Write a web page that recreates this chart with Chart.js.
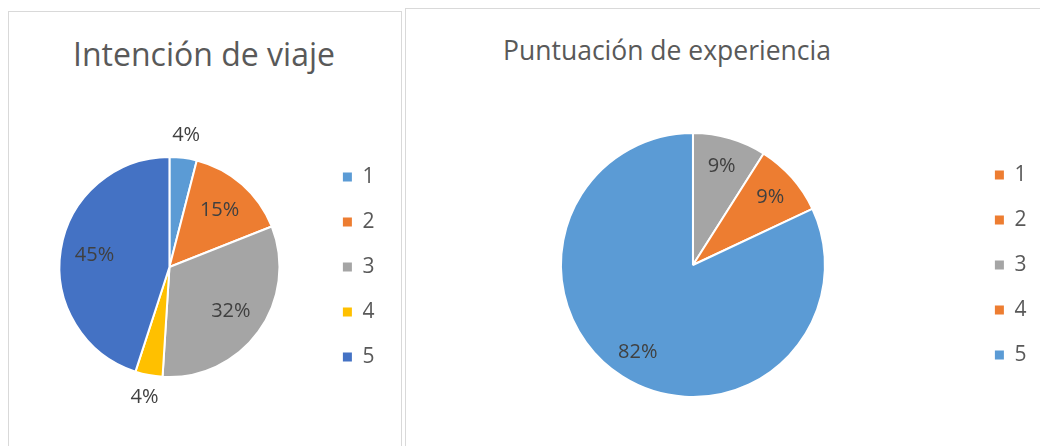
<!DOCTYPE html>
<html>
<head>
<meta charset="utf-8">
<script src="https://cdn.jsdelivr.net/npm/chart.js@4/dist/chart.umd.min.js"></script>
<style>
  body { margin: 0; background: #fff; width: 1040px; height: 446px; overflow: hidden; position: relative; font-family: 'Open Sans', sans-serif; }
  .box { position: absolute; border: 1px solid #d9d9d9; box-sizing: border-box; background: #fff; }
  .title { position: absolute; width: 500px; text-align: center; color: #595959; white-space: nowrap; }
  canvas { position: absolute; }
</style>
</head>
<body>
<div class="box" style="left:8px; top:11px; width:394px; height:460px;"></div>
<div class="box" style="left:405px; top:8px; width:660px; height:460px;"></div>
<div class="title" style="left:-46px; top:35px; font-size:32px; line-height:38px;">Intención de viaje</div>
<div class="title" style="left:417px; top:34px; font-size:26.5px; line-height:32px;">Puntuación de experiencia</div>
<canvas id="chartLeft" width="393" height="435" style="left:8px; top:11px;"></canvas>
<canvas id="chartRight" width="635" height="438" style="left:405px; top:8px;"></canvas>
<script>
const categories = ['1', '2', '3', '4', '5'];

// Intención de viaje (%)
const intentValues = [4, 15, 32, 4, 45];
const intentColors = ['#5B9BD5', '#ED7D31', '#A5A5A5', '#FFC000', '#4472C4'];

// Puntuación de experiencia (%)
const scoreValues = [0, 0, 9, 9, 82];
const scoreColors = ['#ED7D31', '#ED7D31', '#A5A5A5', '#ED7D31', '#5B9BD5'];

Chart.defaults.font.family = "'Open Sans', sans-serif";
Chart.defaults.color = '#595959';

// percentage labels on the slices, small ones pushed outside
const sliceLabels = {
    id: 'sliceLabels',
    afterDatasetsDraw(chart, args, opts) {
        const ctx = chart.ctx;
        const meta = chart.getDatasetMeta(0);
        const values = chart.data.datasets[0].data;
        const total = values.reduce((a, b) => a + b, 0);
        ctx.save();
        ctx.font = "20px 'Open Sans', sans-serif";
        ctx.fillStyle = '#404040';
        ctx.textAlign = 'center';
        ctx.textBaseline = 'middle';
        meta.data.forEach((arc, i) => {
            const v = values[i];
            if (!v) return;
            const pct = v / total * 100;
            const p = arc.getProps(['x', 'y', 'startAngle', 'endAngle', 'outerRadius'], true);
            const mid = (p.startAngle + p.endAngle) / 2;
            const r = p.outerRadius * (pct < 6 ? opts.outside : opts.inside);
            ctx.fillText(Math.round(pct) + '%', p.x + Math.cos(mid) * r, p.y + Math.sin(mid) * r);
        });
        ctx.restore();
    }
};

function buildPie(id, values, colors, radius, padding, labelPos) {
    const ctx = document.getElementById(id).getContext('2d');
    return new Chart(ctx, {
        type: 'pie',
        data: {
            labels: categories,
            datasets: [{
                data: values,
                backgroundColor: colors,
                borderColor: '#ffffff',
                borderWidth: 2
            }]
        },
        options: {
            responsive: false,
            animation: false,
            radius: radius,
            layout: { padding: padding },
            plugins: {
                title: { display: false },
                tooltip: { enabled: false },
                legend: {
                    position: 'right',
                    labels: {
                        boxWidth: 9,
                        boxHeight: 9,
                        padding: 24,
                        color: '#595959',
                        font: { size: 21 },
                        generateLabels: chart => Chart.overrides.doughnut.plugins.legend.labels
                            .generateLabels(chart).map(l => ({ ...l, lineWidth: 0 }))
                    }
                },
                sliceLabels: labelPos
            }
        },
        plugins: [sliceLabels]
    });
}

buildPie('chartLeft', intentValues, intentColors, 110,
    { left: 12, right: 16.6, top: 106, bottom: 29 },
    { inside: 0.69, outside: 1.21 });

buildPie('chartRight', scoreValues, scoreColors, 132,
    { left: 10, right: 3.6, top: 107, bottom: 31 },
    { inside: 0.78, outside: 1.2 });
</script>
</body>
</html>
